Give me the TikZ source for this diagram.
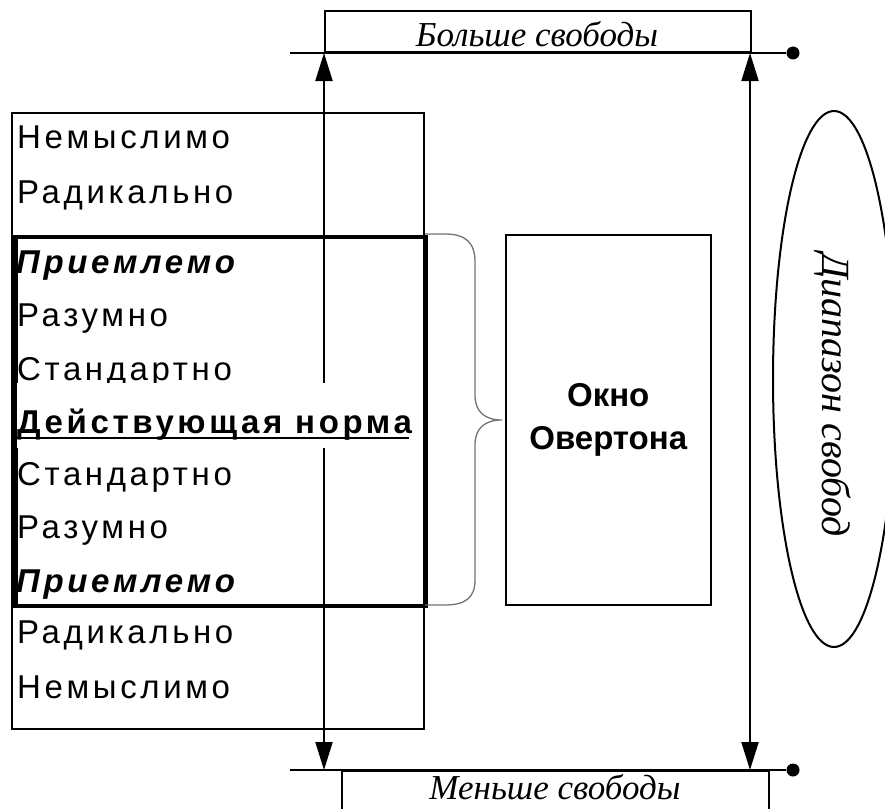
\documentclass[tikz,border=0pt]{standalone}
\usepackage{fontspec}
\setmainfont{Liberation Serif}
\newfontfamily\rowfont[LetterSpace=11]{Liberation Sans}
\newfontfamily\boxfont{Liberation Sans}
\usetikzlibrary{arrows.meta,shapes.geometric,calc}
\tikzset{
  frame/.style={draw, line width=1.5pt, inner sep=0pt},
  thickframe/.style={draw, line width=4.5pt, inner sep=0pt},
  rowtext/.style={anchor=base west, inner sep=0pt, font=\rowfont\fontsize{33}{38}\selectfont},
  italabel/.style={inner sep=0pt, font=\itshape\fontsize{35}{40}\selectfont},
  dblarrow/.style={line width=2pt, {Triangle[length=28pt,width=17pt]}-{Triangle[length=28pt,width=17pt]}},
  hline/.style={line width=2pt},
  dotnode/.style={circle, fill=black, inner sep=0pt, minimum size=13pt},
  bracestyle/.style={draw=black!55, line width=1.3pt}
}
\begin{document}
\begin{tikzpicture}[x=1pt,y=-1pt]
\useasboundingbox (0,0) rectangle (885,808);
\clip (0,0) rectangle (885,808);
\fill[white] (0,0) rectangle (885,808);

% scale boxes
\node[frame, anchor=north west, minimum width=412pt, minimum height=616pt] (outer) at (11,112) {};
\node[thickframe, anchor=north west, minimum width=410pt, minimum height=369pt] (norm) at (13,234.5) {};

% top and bottom lines
\coordinate (tl) at (290,53);
\node[dotnode] (tdot) at (793,53) {};
\coordinate (bl) at (290,770);
\node[dotnode] (bdot) at (793,770) {};
\draw[hline] (tl) -- (tdot);
\draw[hline] (bl) -- (bdot);

% label boxes
\node[frame, anchor=south west, minimum width=426pt, minimum height=41pt] (morebox) at (324,53) {};
\node[italabel, anchor=base] (more) at (537,47) {Больше свободы};
\node[frame, anchor=north west, minimum width=427pt, minimum height=60pt] (lessbox) at (341,770) {};
\node[italabel, anchor=base] (less) at (555,799) {Меньше свободы};

% vertical arrows
\coordinate (la) at (324,53);
\coordinate (lb) at (324,770);
\coordinate (ra) at (750,53);
\coordinate (rb) at (750,770);
\draw[dblarrow] (la) -- (lb);
\draw[dblarrow] (ra) -- (rb);

% rows
\node[rowtext] (r1) at (17,148) {Немыслимо};
\node[rowtext] (r2) at (17,203) {Радикально};
\node[rowtext] (r3) at (16,273) {\bfseries\itshape Приемлемо};
\node[rowtext] (r4) at (17,326) {Разумно};
\node[rowtext] (r5) at (17,380) {Стандартно};
\node[rowtext, fill=white, text height=50pt, text depth=15pt] (r6) at (17,433) {\bfseries Действующая норма};
\draw[line width=2pt] ($(r6.base west)+(0,5)$) -- ($(r6.base east)+(-3,5)$);
\node[rowtext] (r7) at (17,485) {Стандартно};
\node[rowtext] (r8) at (17,538) {Разумно};
\node[rowtext] (r9) at (16,592) {\bfseries\itshape Приемлемо};
\node[rowtext] (r10) at (17,643) {Радикально};
\node[rowtext] (r11) at (17,698) {Немыслимо};

% brace
\draw[bracestyle] (425,234) -- (445,234) .. controls (465,234) and (475,242) .. (475,262)
  -- (475,395) .. controls (475,412) and (485,420) .. (502,420)
  .. controls (485,420) and (475,428) .. (475,445)
  -- (475,580) .. controls (475,598) and (465,605) .. (445,605) -- (425,605);

% Overton window
\node[frame, anchor=north west, minimum width=205pt, minimum height=370pt, align=center,
  font=\boxfont\bfseries\fontsize{33}{43}\selectfont] (window) at (505,234) {Окно\\Овертона};

% range ellipse
\node[draw, ellipse, line width=2pt, inner sep=0pt, minimum width=122pt, minimum height=536pt] (range) at (834,379) {};
\node[rotate=-90, anchor=base, inner sep=0pt, font=\itshape\fontsize{40}{46}\selectfont] (rangetext) at (822,395) {Диапазон свобод};
\end{tikzpicture}
\end{document}
